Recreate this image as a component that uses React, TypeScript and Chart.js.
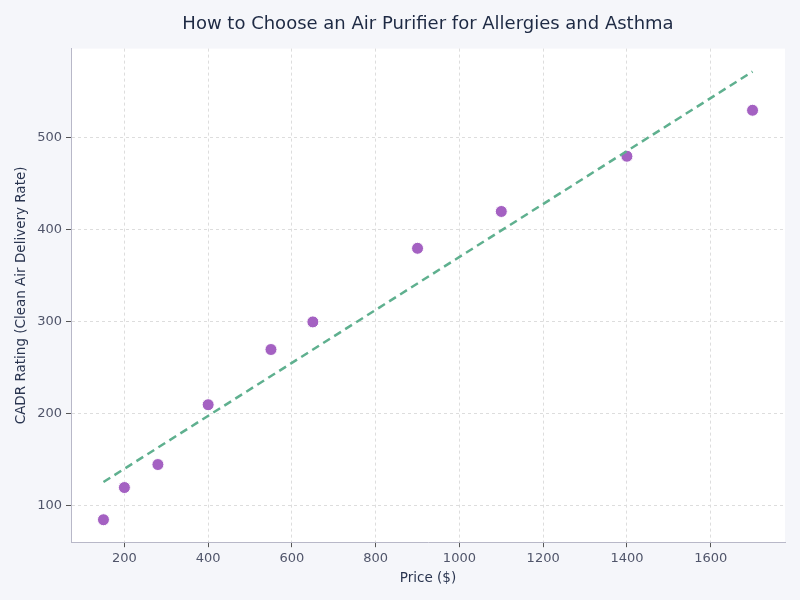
import { useEffect, useRef } from 'react';
import { Chart, registerables } from 'chart.js';

Chart.register(...registerables);

// purifier price ($) vs CADR rating
const prices = [150, 200, 280, 400, 550, 650, 900, 1100, 1400, 1700];
const cadr = [85, 120, 145, 210, 270, 300, 380, 420, 480, 530];

// fitted trend line, endpoints
const trendX = [150, 1700];
const trendY = [126, 572];

const xTicks = [200, 400, 600, 800, 1000, 1200, 1400, 1600];
const yTicks = [100, 200, 300, 400, 500];

const FONT = "'DejaVu Sans', sans-serif";

// paint the page background and a white plot area
const bgPlugin = {
  id: 'bg',
  beforeDraw(chart: Chart) {
    const { ctx, chartArea, width, height } = chart;
    ctx.save();
    ctx.fillStyle = '#f5f6fa';
    ctx.fillRect(0, 0, width, height);
    ctx.fillStyle = '#ffffff';
    ctx.fillRect(chartArea.left, chartArea.top, chartArea.right - chartArea.left, chartArea.bottom - chartArea.top);
    ctx.restore();
  },
};

export default function App() {
  const chartRef = useRef<HTMLCanvasElement>(null);

  useEffect(() => {
    document.body.style.margin = '0';
    if (!chartRef.current) return;
    const chart = new Chart(chartRef.current, {
      type: 'scatter',
      data: {
        datasets: [
          {
            type: 'line',
            label: 'Trend',
            data: trendX.map((x, i) => ({ x, y: trendY[i] })),
            borderColor: '#5fb08f',
            borderWidth: 2.5,
            borderDash: [8, 5],
            pointRadius: 0,
            fill: false,
          },
          {
            label: 'Air purifiers',
            data: prices.map((x, i) => ({ x, y: cadr[i] })),
            backgroundColor: '#a461c2',
            borderColor: '#ffffff',
            borderWidth: 1,
            pointRadius: 6,
          },
        ],
      },
      options: {
        animation: false,
        responsive: false,
        layout: { padding: { left: 13, right: 15, top: 6, bottom: 13 } },
        plugins: {
          legend: { display: false },
          tooltip: { enabled: false },
          title: {
            display: true,
            fullSize: false,
            text: 'How to Choose an Air Purifier for Allergies and Asthma',
            color: '#1e2a44',
            font: { family: FONT, size: 18, weight: 'normal' },
            padding: { top: 8, bottom: 13 },
          },
        },
        scales: {
          x: {
            type: 'linear',
            min: 72.5,
            max: 1777.5,
            afterBuildTicks: (axis: any) => {
              axis.ticks = xTicks.map((v) => ({ value: v }));
            },
            title: {
              display: true,
              text: 'Price ($)',
              color: '#2a3550',
              font: { family: FONT, size: 13.5 },
              padding: { top: 0, bottom: 0 },
            },
            ticks: {
              color: '#50556a',
              font: { family: FONT, size: 13 },
              padding: 4,
              callback: (v: any) => String(v),
            },
            grid: { color: '#dddddd', tickColor: '#555555', tickLength: 5, tickBorderDash: [] },
            border: { display: true, color: '#b8b8c8', dash: [3, 3] },
          },
          y: {
            type: 'linear',
            min: 60.6,
            max: 597,
            afterBuildTicks: (axis: any) => {
              axis.ticks = yTicks.map((v) => ({ value: v }));
            },
            title: {
              display: true,
              text: 'CADR Rating (Clean Air Delivery Rate)',
              color: '#2a3550',
              font: { family: FONT, size: 13.5 },
              padding: { top: 0, bottom: 4 },
            },
            ticks: {
              color: '#50556a',
              font: { family: FONT, size: 13 },
              padding: 4,
              callback: (v: any) => String(v),
            },
            grid: { color: '#dddddd', tickColor: '#555555', tickLength: 5, tickBorderDash: [] },
            border: { display: true, color: '#b8b8c8', dash: [3, 3] },
          },
        },
      },
      plugins: [bgPlugin],
    });

    return () => chart.destroy();
  }, []);

  return <canvas ref={chartRef} width={800} height={600} style={{ display: 'block' }} />;
}
